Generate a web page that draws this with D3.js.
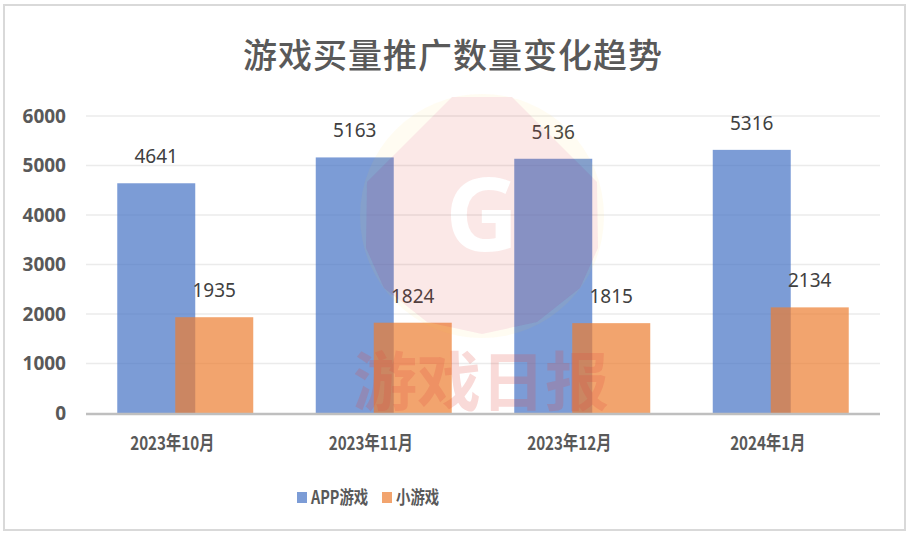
<!DOCTYPE html>
<html>
<head>
<meta charset="utf-8">
<script src="https://cdn.jsdelivr.net/npm/d3@7/dist/d3.min.js"></script>
<style>
  html, body { margin: 0; padding: 0; background: #fff; }
  svg { display: block; font-family: "Noto Sans CJK SC", "Noto Sans", sans-serif; }
</style>
</head>
<body>
<svg id="chart" width="909" height="536"></svg>
<script>
// Monthly counts of promoted games, by kind
const categories = ["2023年10月", "2023年11月", "2023年12月", "2024年1月"];
const appGames = [4641, 5163, 5136, 5316];
const miniGames = [1935, 1824, 1815, 2134];
const seriesNames = ["APP游戏", "小游戏"];
const yTicks = [0, 1000, 2000, 3000, 4000, 5000, 6000];
const title = "游戏买量推广数量变化趋势";

const svg = d3.select("#chart");
const W = 909, H = 536;

const x = d3.scaleBand().domain(categories).range([86, 880]);
const y = d3.scaleLinear().domain([0, 6000]).range([413, 116]);

const barW = 78, barOff = 29;
const colors = ["#4472C4", "#ED7D31"];
const condense = 0.8;

// Frame
svg.append("rect").attr("x", 4).attr("y", 5).attr("width", W - 8).attr("height", H - 11)
  .attr("fill", "#fff").attr("stroke", "#d9d9d9").attr("stroke-width", 2);

// Title
svg.append("text").attr("x", 453).attr("y", 68).attr("text-anchor", "middle")
  .attr("font-size", 34).attr("font-weight", 500).attr("letter-spacing", 1).attr("fill", "#595959")
  .text(title);

// Gridlines
svg.append("g").selectAll("line").data(yTicks.filter(d => d > 0)).join("line")
  .attr("x1", 86).attr("x2", 880)
  .attr("y1", d => y(d)).attr("y2", d => y(d))
  .attr("stroke", "#ebebeb").attr("stroke-width", 1.5);

// Y axis labels
const yAxis = svg.append("g").attr("transform", "translate(66,0)")
  .call(d3.axisLeft(y).tickValues(yTicks).tickSize(0).tickPadding(0).tickFormat(d3.format("d")));
yAxis.select(".domain").remove();
yAxis.selectAll("text").attr("font-size", 19).attr("font-weight", "bold")
  .attr("fill", "#595959").attr("font-family", "'Noto Sans', sans-serif");

// Bars
const series = [appGames, miniGames];
series.forEach((vals, si) => {
  const off = si === 0 ? -barOff : barOff;
  svg.append("g").selectAll("rect").data(vals).join("rect")
    .attr("x", (d, i) => x(categories[i]) + x.bandwidth() / 2 + off - barW / 2)
    .attr("y", d => y(d))
    .attr("width", barW)
    .attr("height", d => y(0) - y(d))
    .attr("fill", colors[si]).attr("fill-opacity", 0.7);
});

// Value labels
series.forEach((vals, si) => {
  const off = si === 0 ? -barOff : barOff;
  svg.append("g").selectAll("text").data(vals).join("text")
    .attr("x", (d, i) => x(categories[i]) + x.bandwidth() / 2 + off)
    .attr("y", d => y(d) - 20)
    .attr("text-anchor", "middle")
    .attr("font-size", 19).attr("fill", "#404040")
    .attr("font-family", "'Noto Sans', sans-serif")
    .text(d => d);
});

// Category axis
svg.append("line").attr("x1", 86).attr("x2", 880).attr("y1", y(0) + 1).attr("y2", y(0) + 1)
  .attr("stroke", "#bfbfbf").attr("stroke-width", 2.5);
const xAxis = svg.append("g").attr("transform", `translate(-13,${y(0)})`)
  .call(d3.axisBottom(x).tickSize(0).tickPadding(24));
xAxis.select(".domain").remove();
xAxis.selectAll("text").attr("font-size", 19).attr("font-weight", "bold")
  .attr("fill", "#595959").attr("font-family", "'Noto Sans CJK SC', sans-serif")
  .attr("transform", `scale(${condense},1)`);

// Legend
const legendItems = [{ name: seriesNames[0], c: colors[0], x: 297 }, { name: seriesNames[1], c: colors[1], x: 382 }];
const lg = svg.append("g");
legendItems.forEach(it => {
  lg.append("rect").attr("x", it.x).attr("y", 492).attr("width", 10).attr("height", 11)
    .attr("fill", it.c).attr("fill-opacity", 0.7);
  lg.append("text").attr("transform", `translate(${it.x + 14},504) scale(${condense},1)`)
    .attr("font-size", 18).attr("font-weight", "bold").attr("fill", "#595959")
    .text(it.name);
});

// Watermark: logo badge with a cut-out G, and wordmark
const badge = [[452, 97], [512, 97], [597, 182], [598, 248], [580, 288], [537, 322], [482, 334],
  [427, 322], [384, 288], [366, 248], [367, 182]];
const badgePath = d3.line().curve(d3.curveLinearClosed)(badge);
const defs = svg.append("defs");
const gLetter = sel => sel.append("text").attr("x", 482).attr("y", 251).attr("text-anchor", "middle")
  .attr("font-size", 102).attr("font-weight", "bold").attr("fill", "#000")
  .attr("font-family", "'Noto Sans', sans-serif").text("G");

const mask = defs.append("mask").attr("id", "gcut");
mask.append("rect").attr("width", W).attr("height", H).attr("fill", "#fff");
gLetter(mask);

const ringMask = defs.append("mask").attr("id", "ringcut");
ringMask.append("rect").attr("width", W).attr("height", H).attr("fill", "#fff");
ringMask.append("path").attr("d", badgePath).attr("fill", "#000");

svg.append("circle").attr("cx", 482).attr("cy", 216).attr("r", 122)
  .attr("fill", "#ffd84a").attr("fill-opacity", 0.07).attr("mask", "url(#ringcut)");
svg.append("path").attr("d", badgePath).attr("mask", "url(#gcut)")
  .attr("fill", "#e0403a").attr("fill-opacity", 0.12);

svg.append("text").attr("x", 481).attr("y", 405).attr("text-anchor", "middle")
  .attr("font-size", 64).attr("font-weight", "bold").attr("fill", "#e0443c").attr("fill-opacity", 0.2)
  .text("游戏日报");
</script>
</body>
</html>
